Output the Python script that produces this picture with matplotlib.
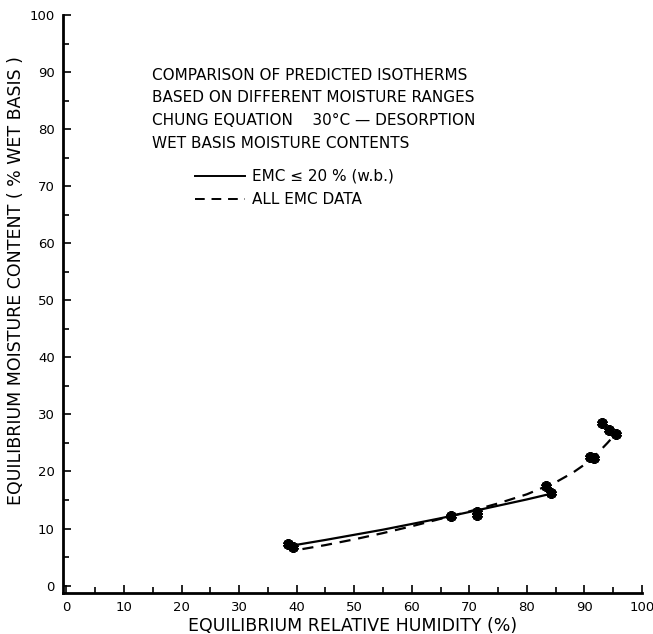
import matplotlib
matplotlib.use("Agg")
import matplotlib.pyplot as plt
from matplotlib.ticker import MultipleLocator

# measured EMC data points (relative humidity %, moisture content % w.b.)
rh_data = [38.5, 39.4, 66.8, 71.3, 71.4, 83.4, 84.2, 91.0, 91.7, 93.0, 94.3, 95.5]
emc_data = [7.3, 6.7, 12.2, 12.9, 12.3, 17.5, 16.2, 22.6, 22.3, 28.5, 27.3, 26.5]

# predicted isotherm, fitted to EMC <= 20 %
rh_low = [40.3, 45, 50, 55, 60, 65, 70, 75, 80, 84.2]
emc_low = [7.2, 8.0, 8.9, 9.8, 10.8, 11.8, 12.9, 14.0, 15.1, 16.1]

# predicted isotherm, fitted to all EMC data
rh_all = [41.0, 45, 50, 55, 60, 65, 70, 75, 80, 85, 88, 90, 92, 94, 95.5]
emc_all = [6.4, 7.1, 8.1, 9.2, 10.4, 11.7, 13.0, 14.4, 16.0, 18.1, 19.8, 21.2, 22.9, 25.0, 26.7]

title_lines = [
    "COMPARISON OF PREDICTED ISOTHERMS",
    "BASED ON DIFFERENT MOISTURE RANGES",
    "CHUNG EQUATION    30\u00b0C \u2014 DESORPTION",
    "WET BASIS MOISTURE CONTENTS",
]
legend_labels = ["EMC \u2264 20 % (w.b.)", "ALL EMC DATA"]

W, H = 653, 634
fig = plt.figure(figsize=(W / 100, H / 100), dpi=100)
ax = fig.add_axes([63 / W, 1 - 593 / H, (642 - 63) / W, (593 - 15) / H])

ax.plot(rh_low, emc_low, color="black", lw=1.6)
ax.plot(rh_all, emc_all, color="black", lw=1.6, dashes=(5, 3.5))
ax.plot(rh_data, emc_data, ls="none", marker=(6, 2, 0), ms=7.5, mew=2.8,
        color="black")

ax.set_xlim(-0.6, 100)
ax.set_ylim(-1.3, 100)
for side in ("top", "right"):
    ax.spines[side].set_visible(False)
for side in ("left", "bottom"):
    ax.spines[side].set_linewidth(2.0)

ax.xaxis.set_major_locator(MultipleLocator(10))
ax.xaxis.set_minor_locator(MultipleLocator(5))
ax.yaxis.set_major_locator(MultipleLocator(10))
ax.yaxis.set_minor_locator(MultipleLocator(5))
ax.tick_params(which="both", direction="in", width=1.2)
ax.tick_params(which="major", length=6, labelsize=9.5)
ax.tick_params(which="minor", length=4)
ax.tick_params(axis="x", pad=6)
ax.tick_params(axis="y", pad=6)

ax.set_xlabel("EQUILIBRIUM RELATIVE HUMIDITY (%)", fontsize=12.5, labelpad=2)
ax.set_ylabel("EQUILIBRIUM MOISTURE CONTENT ( % WET BASIS )", fontsize=12.5)
ax.yaxis.set_label_coords(-0.065, 0.54)

for i, line in enumerate(title_lines):
    fig.text(152 / W, 1 - (75 + 22.7 * i) / H, line, fontsize=11,
             va="center", ha="left")

# hand-drawn style legend
for i, label in enumerate(legend_labels):
    y = 1 - (176 + 23 * i) / H
    kw = {} if i == 0 else {"dashes": (5, 3.5)}
    fig.add_artist(plt.Line2D([195 / W, 245 / W], [y, y], color="black",
                              lw=1.4, **kw))
    fig.text(252 / W, y, label, fontsize=11, va="center", ha="left")

fig.savefig("out.png", dpi=100)
